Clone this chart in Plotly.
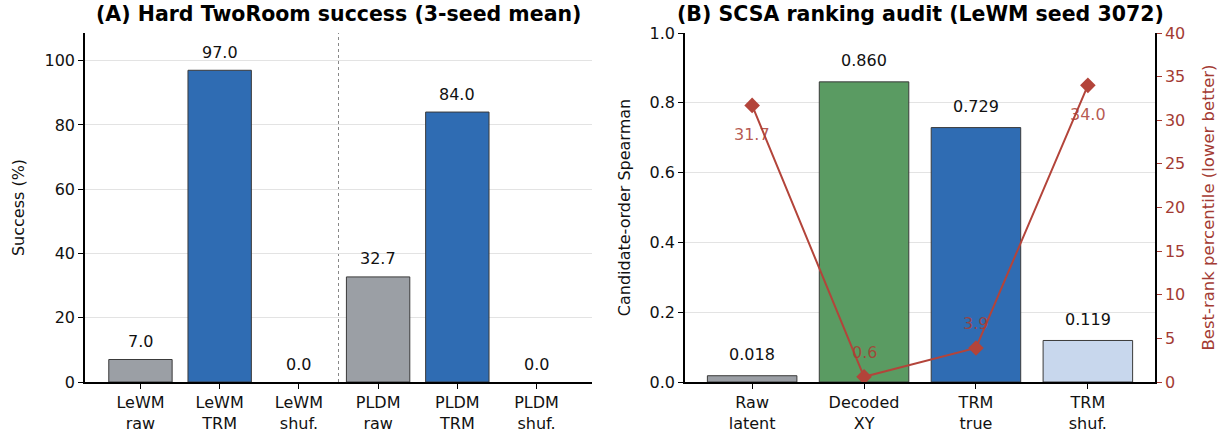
import plotly.graph_objects as go

# ---- data ----
a_labels = ["LeWM<br>raw", "LeWM<br>TRM", "LeWM<br>shuf.", "PLDM<br>raw", "PLDM<br>TRM", "PLDM<br>shuf."]
a_values = [7.0, 97.0, 0.0, 32.7, 84.0, 0.0]
a_colors = ["#9b9fa5", "#2f6cb3", "#2f6cb3", "#9b9fa5", "#2f6cb3", "#2f6cb3"]

b_labels = ["Raw<br>latent", "Decoded<br>XY", "TRM<br>true", "TRM<br>shuf."]
b_spearman = [0.018, 0.860, 0.729, 0.119]
b_colors = ["#9b9fa5", "#5a9b62", "#2f6cb3", "#c8d7ed"]
b_rank_pct = [31.7, 0.6, 3.9, 34.0]

W, H = 1228, 436
FONT = "DejaVu Sans"
RED = "#b3443a"
RED_TXT = "#a33b33"

def px_x(p):
    return p / W

def px_y(p):
    return 1 - p / H

ydom = [px_y(382), px_y(33)]
fig = go.Figure()

xa = list(range(len(a_labels)))
fig.add_trace(go.Bar(x=xa, y=a_values,
                     marker=dict(color=a_colors, line=dict(color="#3a3a3a",
                                 width=[1 if v > 0 else 0 for v in a_values])),
                     width=0.8, xaxis="x", yaxis="y", showlegend=False))
xb = list(range(len(b_labels)))
fig.add_trace(go.Bar(x=xb, y=b_spearman, marker=dict(color=b_colors, line=dict(color="#3a3a3a", width=1)),
                     width=0.8, xaxis="x2", yaxis="y2", showlegend=False))
fig.add_trace(go.Scatter(x=xb, y=b_rank_pct, mode="lines+markers", xaxis="x2", yaxis="y3",
                         line=dict(color=RED, width=2),
                         marker=dict(symbol="diamond", size=12, color=RED), showlegend=False))

LBL = 16
annots = []
for i, v in enumerate(a_values):
    annots.append(dict(x=i, y=v, xref="x", yref="y", text=f"{v:.1f}", showarrow=False,
                       yanchor="middle", yshift=18, font=dict(size=LBL, color="#111", family=FONT)))
for i, v in enumerate(b_spearman):
    annots.append(dict(x=i, y=v, xref="x2", yref="y2", text=f"{v:.3f}", showarrow=False,
                       yanchor="middle", yshift=21, font=dict(size=LBL, color="#111", family=FONT)))
for i, v in enumerate(b_rank_pct):
    shift = -29 if v > 20 else 24
    annots.append(dict(x=i, y=v, xref="x2", yref="y3", text=f"{v:.1f}", showarrow=False,
                       yanchor="middle", yshift=shift,
                       font=dict(size=LBL, color="rgba(170,60,50,0.85)", family=FONT)))
annots.append(dict(x=px_x(338), y=px_y(14), xref="paper", yref="paper", showarrow=False,
                   text="<b>(A) Hard TwoRoom success (3-seed mean)</b>", xanchor="center", yanchor="middle",
                   font=dict(size=20.5, color="#000", family=FONT)))
annots.append(dict(x=px_x(920), y=px_y(14), xref="paper", yref="paper", showarrow=False,
                   text="<b>(B) SCSA ranking audit (LeWM seed 3072)</b>", xanchor="center", yanchor="middle",
                   font=dict(size=20.5, color="#000", family=FONT)))

tickfont = dict(size=16, color="#111", family=FONT)
common_x = dict(showline=True, linecolor="#000", linewidth=1.5, ticks="outside", ticklen=5,
                tickcolor="#000", tickfont=tickfont, showgrid=False, zeroline=False, automargin=False)
common_y = dict(showline=True, linecolor="#000", linewidth=1.5, ticks="outside", ticklen=5,
                tickcolor="#000", tickfont=tickfont, showgrid=True, gridcolor="#e3e3e3",
                gridwidth=1, zeroline=False, automargin=False)

fig.update_layout(
    width=W, height=H, margin=dict(l=0, r=0, t=0, b=0, autoexpand=False),
    paper_bgcolor="white", plot_bgcolor="white",
    font=dict(family=FONT, size=16, color="#111"),
    xaxis=dict(domain=[px_x(85), px_x(592)], range=[-0.7, 5.7], anchor="y",
               tickvals=xa, ticktext=a_labels, **common_x),
    yaxis=dict(domain=ydom, range=[0, 108.6], anchor="x", tickvals=[0, 20, 40, 60, 80, 100],
               title=dict(text="Success (%)", font=dict(size=16, family=FONT, color="#111"), standoff=16),
               **common_y),
    xaxis2=dict(domain=[px_x(685), px_x(1155)], range=[-0.6, 3.6], anchor="y2",
                tickvals=xb, ticktext=b_labels, **common_x),
    yaxis2=dict(domain=ydom, range=[0, 1.0], anchor="x2", tickvals=[0, 0.2, 0.4, 0.6, 0.8, 1.0],
                tickformat=".1f",
                title=dict(text="Candidate-order Spearman", font=dict(size=16, family=FONT, color="#111"), standoff=15),
                **common_y),
    yaxis3=dict(overlaying="y2", side="right", anchor="x2", range=[0, 40],
                tickvals=list(range(0, 41, 5)), showgrid=False, zeroline=False, automargin=False,
                showline=True, linecolor="#000", linewidth=1.5, ticks="outside", ticklen=5,
                tickcolor=RED_TXT, tickfont=dict(size=16, color=RED_TXT, family=FONT),
                title=dict(text="Best-rank percentile (lower better)",
                           font=dict(size=16.5, family=FONT, color=RED_TXT), standoff=18)),
    annotations=annots,
    shapes=[dict(type="line", xref="x", yref="y domain", x0=2.5, x1=2.5, y0=0, y1=1,
                 line=dict(color="#888", width=1, dash="dot"), layer="below")],
    bargap=0.2,
)

fig.write_html("out.html", config={"displayModeBar": False},
               post_script="document.body.style.margin='0';document.body.style.overflow='hidden';")
